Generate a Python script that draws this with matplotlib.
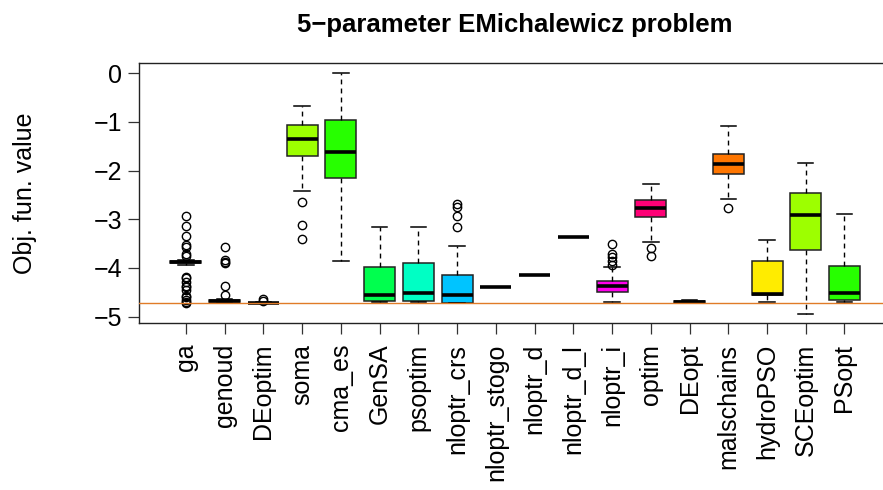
import matplotlib
matplotlib.use("Agg")
import matplotlib.pyplot as plt

plt.rcParams['font.family'] = ['Liberation Sans', 'DejaVu Sans']

# boxplot summaries
methods = ['ga', 'genoud', 'DEoptim', 'soma', 'cma_es', 'GenSA', 'psoptim',
           'nloptr_crs', 'nloptr_stogo', 'nloptr_d', 'nloptr_d_l', 'nloptr_i',
           'optim', 'DEopt', 'malschains', 'hydroPSO', 'SCEoptim', 'PSopt']
q1 = [-3.90, -4.695, -4.72, -1.70, -2.15, -4.675, -4.675, -4.715, -4.382,
      -4.151, -3.36, -4.485, -2.957, -4.715, -2.078, -4.56, -3.64, -4.665]
med = [-3.875, -4.685, -4.715, -1.342, -1.608, -4.546, -4.51, -4.56, -4.382,
       -4.151, -3.36, -4.376, -2.76, -4.70, -1.874, -4.526, -2.917, -4.515]
q3 = [-3.86, -4.665, -4.71, -1.07, -0.953, -3.98, -3.898, -4.15, -4.382,
      -4.151, -3.36, -4.26, -2.603, -4.675, -1.656, -3.85, -2.454, -3.953]
whislo = [-3.94, -4.705, -4.725, -2.426, -3.865, -4.69, -4.69, -4.716, -4.382,
          -4.151, -3.36, -4.69, -3.47, -4.72, -2.583, -4.69, -4.935, -4.69]
whishi = [-3.84, -4.645, -4.70, -0.675, 0.0, -3.163, -3.163, -3.558, -4.382,
          -4.151, -3.36, -3.987, -2.27, -4.665, -1.076, -3.428, -1.847, -2.90]
fliers = [
    [-2.93, -3.14, -3.34, -3.53, -3.56, -3.72, -3.75, -4.18, -4.21, -4.28,
     -4.37, -4.40, -4.46, -4.57, -4.60, -4.66, -4.69, -4.716],
    [-3.57, -3.84, -3.87, -3.90, -4.37, -4.55],
    [-4.64, -4.67],
    [-2.64, -3.115, -3.41],
    [], [], [],
    [-2.69, -2.74, -2.93, -3.15],
    [], [], [],
    [-3.50, -3.71, -3.775, -3.865, -3.93],
    [-3.59, -3.76],
    [],
    [-2.76],
    [], [], [],
]
global_min = -4.7165

colors = ['#FF0000', '#FF7600', '#FFEC00', '#9DFF00', '#27FF00', '#00FF4E',
          '#00FFC4', '#00C4FF', '#004EFF', '#2700FF', '#9D00FF', '#FF00EC',
          '#FF0076', '#FF0000', '#FF7600', '#FFEC00', '#9DFF00', '#27FF00']

stats = []
for i, m in enumerate(methods):
    stats.append(dict(label=m, med=med[i], q1=q1[i], q3=q3[i],
                      whislo=whislo[i], whishi=whishi[i], fliers=fliers[i]))

fig = plt.figure(figsize=(8.83, 4.90), dpi=100)
ax = fig.add_axes([0.1571, 0.3408, 0.8528, 0.5306])

pos = list(range(1, len(methods) + 1))
bp = ax.bxp(stats, positions=pos, widths=0.8, patch_artist=True,
            boxprops=dict(edgecolor='#222222', linewidth=1.1),
            medianprops=dict(color='black', linewidth=2.6, solid_capstyle='butt'),
            whiskerprops=dict(color='black', linewidth=1.0, linestyle=(0, (3.5, 3))),
            capprops=dict(color='black', linewidth=1.1),
            flierprops=dict(marker='o', markerfacecolor='none',
                            markeredgecolor='black', markersize=6, markeredgewidth=1.0))
for patch, c in zip(bp['boxes'], colors):
    patch.set_facecolor(c)

ax.axhline(global_min, color='#E07B28', linewidth=1.0, zorder=5)

ax.set_xlim(-0.22, 19.22)
ax.set_ylim(-5.13, 0.21)
ax.set_yticks([0, -1, -2, -3, -4, -5])
ax.set_yticklabels(['0', '\u22121', '\u22122', '\u22123', '\u22124', '\u22125'])
ax.set_xticks(pos)
ax.set_xticklabels(methods, rotation=90)
ax.tick_params(axis='both', labelsize=18, length=8, width=0.9, color='#333333')
ax.tick_params(axis='x', pad=7)
ax.tick_params(axis='y', pad=4)
for s in ax.spines.values():
    s.set_linewidth(1.0)
    s.set_color('#222222')
ax.spines['right'].set_visible(False)

fig.text(0.028, 0.5306 / 2 + 0.3408, 'Obj. fun. value', rotation=90,
         ha='center', va='center', fontsize=18)
fig.text(0.583, 0.9353, '5\u2212parameter EMichalewicz problem',
         ha='center', va='baseline', fontsize=18.5, fontweight='bold')

fig.savefig('out.png', dpi=100)
